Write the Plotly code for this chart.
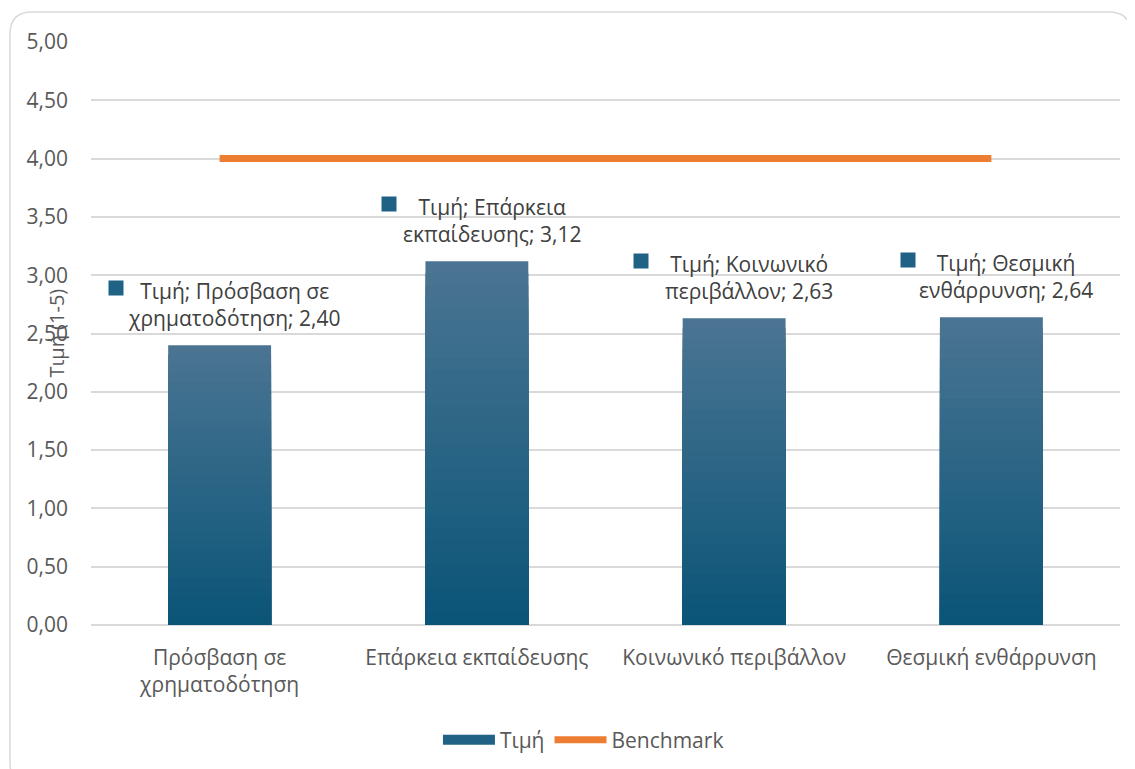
import plotly.graph_objects as go

categories = ["Πρόσβαση σε χρηματοδότηση", "Επάρκεια εκπαίδευσης", "Κοινωνικό περιβάλλον", "Θεσμική ενθάρρυνση"]
tick_labels = ["Πρόσβαση σε<br>χρηματοδότηση", "Επάρκεια εκπαίδευσης", "Κοινωνικό περιβάλλον", "Θεσμική ενθάρρυνση"]
values = [2.40, 3.12, 2.63, 2.64]
benchmark = [4.0, 4.0, 4.0, 4.0]
label_line1 = ["Τιμή; Πρόσβαση σε", "Τιμή; Επάρκεια", "Τιμή; Κοινωνικό", "Τιμή; Θεσμική"]
label_line2 = ["χρηματοδότηση", "εκπαίδευσης", "περιβάλλον", "ενθάρρυνση"]

FONT = "Open Sans"
TXT = "#595959"
LBL = "#404040"
top_rgb = (0x4a, 0x74, 0x92)
bot_rgb = (0x0b, 0x55, 0x78)

fig = go.Figure()

# gradient bars: overlaid bars of decreasing height, light at top to dark at bottom
N = 30
for k in range(N, 0, -1):
    f = (k - 1) / (N - 1)
    c = tuple(round(bot_rgb[i] + (top_rgb[i] - bot_rgb[i]) * f) for i in range(3))
    fig.add_trace(go.Bar(
        x=categories, y=[v * k / N for v in values],
        width=0.4, marker=dict(color="rgb(%d,%d,%d)" % c, line=dict(width=0)),
        name="Τιμή", showlegend=False, hoverinfo="skip",
    ))

# legend entry for the bars (wide rectangle key)
fig.add_trace(go.Scatter(x=[None], y=[None], mode="lines", name="Τιμή",
                         line=dict(color="#1f6286", width=14)))

fig.add_trace(go.Scatter(
    x=categories, y=benchmark, mode="lines", name="Benchmark",
    line=dict(color="#ED7D31", width=7),
))

# data labels
for i, cat in enumerate(categories):
    txt = label_line1[i] + "<br>" + label_line2[i] + "; " + ("%.2f" % values[i]).replace(".", ",")
    fig.add_annotation(x=cat, y=values[i], text=txt, showarrow=False,
                       xshift=15, yshift=41, yanchor="middle", align="center",
                       font=dict(family=FONT, size=21, color=LBL))
    w1 = len(label_line1[i]) * 10.6
    fig.add_annotation(x=cat, y=values[i], text=" ", showarrow=False,
                       xshift=15 - w1 / 2 - 29, yshift=57, yanchor="middle",
                       width=14, height=14, bgcolor="#1f6286", borderpad=0,
                       font=dict(size=4))

# y axis title
fig.add_annotation(xref="paper", yref="paper", x=-0.034, y=0.5, text="Τιμή (1-5)",
                   textangle=-90, showarrow=False, xanchor="center", yanchor="middle",
                   font=dict(family=FONT, size=20, color=TXT))

# rounded chart border
pw, ph = 1029.0, 583.0
x0, x1 = -81 / pw, 1040 / pw
y0, y1 = -160 / ph, 613 / ph
rx, ry = 22 / pw, 22 / ph
path = (f"M {x0+rx},{y1} L {x1-rx},{y1} Q {x1},{y1} {x1},{y1-ry} L {x1},{y0+ry} "
        f"Q {x1},{y0} {x1-rx},{y0} L {x0+rx},{y0} Q {x0},{y0} {x0},{y0+ry} "
        f"L {x0},{y1-ry} Q {x0},{y1} {x0+rx},{y1} Z")
fig.add_shape(type="path", path=path, xref="paper", yref="paper",
              line=dict(color="#d9d9d9", width=1.5), fillcolor="rgba(0,0,0,0)")

fig.update_layout(
    width=1135, height=769,
    margin=dict(l=83, r=23, t=34, b=152),
    paper_bgcolor="white", plot_bgcolor="white",
    barmode="overlay",
    separators=",.",
    font=dict(family=FONT, size=21, color=TXT),
    showlegend=True,
    legend=dict(orientation="h", xref="container", yref="container",
                x=0.507, xanchor="center", y=0.048, yanchor="middle",
                itemwidth=52, font=dict(family=FONT, size=21, color=TXT),
                traceorder="normal"),
    xaxis=dict(tickmode="array", tickvals=categories, ticktext=tick_labels,
               showgrid=False, zeroline=False, showline=False, ticks="",
               automargin=False, ticklabelstandoff=18,
               tickfont=dict(family=FONT, size=21, color=TXT)),
    yaxis=dict(range=[0, 5], dtick=0.5, tickformat=".2f", showgrid=True,
               gridcolor="#d9d9d9", gridwidth=1.5, zeroline=True, zerolinecolor="#d9d9d9",
               zerolinewidth=1.5, showline=False, ticks="", ticklabelstandoff=22,
               automargin=False,
               tickfont=dict(family=FONT, size=21, color=TXT)),
)

fig.write_html("out.html")
